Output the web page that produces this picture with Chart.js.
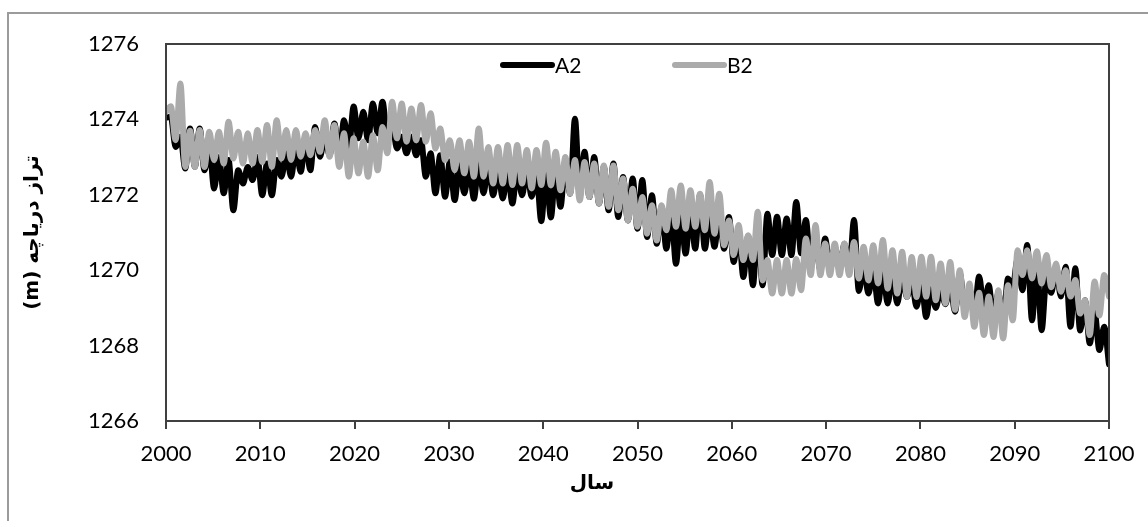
<!DOCTYPE html>
<html>
<head>
<meta charset="utf-8">
<title>Lake level A2 / B2</title>
<script src="https://cdn.jsdelivr.net/npm/chart.js@4.4.1/dist/chart.umd.min.js"></script>
<style>
  html, body { margin: 0; padding: 0; background: #fff; overflow: hidden; }
  #wrap { position: relative; width: 1148px; height: 521px; }
  #frame { position: absolute; left: 7px; top: 12px; width: 1300px; height: 700px;
           border-left: 2px solid #9b9b9b; border-top: 2px solid #9b9b9b; }
  canvas { position: absolute; left: 0; top: 0; }
</style>
</head>
<body>
<div id="wrap">
  <div id="frame"></div>
  <canvas id="levelChart" width="1148" height="521"></canvas>
</div>
<script>
// Lake level (m), one low and one high reading per seasonal swing
const seriesNames = ['A2', 'B2'];
const startYear = 2000;
const endYear = 2100;
const swingCount = 98;               // seasonal swings between 2000 and 2100
const yTicks = [1266, 1268, 1270, 1272, 1274, 1276];
const xTicks = [2000, 2010, 2020, 2030, 2040, 2050, 2060, 2070, 2080, 2090, 2100];

const a2Low = [
  1274.05, 1273.27, 1272.7, 1272.74, 1272.65, 1272.17, 1272.04, 1271.59, 1272.3, 1272.39,
  1271.99, 1271.99, 1272.48, 1272.48, 1272.61, 1272.65, 1273.01, 1273.05, 1273.01, 1273.23,
  1273.5, 1273.45, 1273.63, 1273.54, 1273.23, 1273.1, 1273.05, 1272.48, 1272.04, 1271.95,
  1271.86, 1272.04, 1271.9, 1272.04, 1271.99, 1271.9, 1271.77, 1271.99, 1271.95, 1271.3,
  1271.4, 1271.68, 1272.03, 1272.03, 1271.94, 1271.77, 1271.59, 1271.41, 1271.32, 1271.1,
  1270.88, 1270.7, 1270.57, 1270.17, 1270.44, 1270.57, 1270.57, 1270.62, 1270.57, 1270.22,
  1269.82, 1269.6, 1269.6, 1270.4, 1270.4, 1270.4, 1270.45, 1270.1, 1270.0, 1270.0,
  1270.0, 1269.95, 1269.45, 1269.38, 1269.12, 1269.12, 1269.12, 1269.29, 1269.03, 1268.76,
  1269.0, 1269.1, 1268.9, 1269.0, 1268.85, 1269.0, 1268.7, 1268.6, 1269.56, 1269.47,
  1268.67, 1268.41, 1269.4, 1269.3, 1268.5, 1268.4, 1268.06, 1267.88, 1267.5
];
const a2High = [
  1274.07, 1273.54, 1273.76, 1273.76, 1273.27, 1273.0, 1272.92, 1272.65, 1272.74, 1273.0,
  1272.83, 1272.92, 1273.1, 1273.27, 1273.45, 1273.8, 1273.54, 1273.89, 1273.98, 1274.34,
  1274.2, 1274.42, 1274.47, 1273.89, 1273.54, 1273.54, 1273.45, 1273.1, 1273.05, 1272.88,
  1272.79, 1272.74, 1272.83, 1272.83, 1272.65, 1272.65, 1272.7, 1272.65, 1272.57, 1272.6,
  1272.7, 1272.9, 1274.02, 1273.14, 1273.0, 1272.74, 1272.83, 1272.47, 1272.43, 1272.39,
  1271.99, 1271.68, 1271.59, 1271.5, 1271.59, 1272.0, 1271.5, 1271.5, 1271.41, 1271.06,
  1270.9, 1271.28, 1271.5, 1271.42, 1271.37, 1271.81, 1271.33, 1270.8, 1270.84, 1270.62,
  1270.7, 1271.33, 1270.1, 1270.0, 1269.95, 1269.9, 1269.9, 1269.7, 1269.7, 1269.5,
  1269.5, 1269.6, 1269.91, 1269.5, 1269.83, 1269.6, 1269.4, 1269.78, 1270.3, 1270.67,
  1270.2, 1269.8, 1270.09, 1270.09, 1270.05, 1269.2, 1268.9, 1268.5
];
const b2Low = [
  1274.2, 1273.45, 1272.74, 1272.74, 1272.74, 1272.92, 1272.83, 1272.96, 1272.83, 1272.83,
  1272.87, 1272.74, 1272.96, 1272.92, 1273.01, 1273.05, 1273.14, 1273.01, 1272.74, 1272.48,
  1272.57, 1272.48, 1272.65, 1273.1, 1273.5, 1273.41, 1273.45, 1273.41, 1273.23, 1272.92,
  1272.65, 1272.57, 1272.48, 1272.48, 1272.3, 1272.3, 1272.26, 1272.3, 1272.17, 1272.26,
  1272.25, 1272.12, 1272.03, 1271.85, 1271.94, 1271.77, 1271.68, 1271.59, 1271.32, 1271.15,
  1270.97, 1270.79, 1271.06, 1271.15, 1271.1, 1271.15, 1271.06, 1270.97, 1270.66, 1270.4,
  1270.27, 1270.27, 1269.73, 1269.38, 1269.38, 1269.38, 1269.47, 1269.87, 1269.87, 1269.87,
  1269.87, 1269.87, 1269.78, 1269.73, 1269.65, 1269.51, 1269.38, 1269.29, 1269.29, 1269.3,
  1269.2, 1269.12, 1268.95, 1268.76, 1268.5, 1268.28, 1268.23, 1268.19, 1268.67, 1269.87,
  1269.78, 1269.65, 1269.55, 1269.43, 1269.3, 1268.85, 1268.28, 1268.8, 1269.3
];
const b2High = [
  1274.35, 1274.95, 1273.7, 1273.72, 1273.67, 1273.67, 1273.94, 1273.67, 1273.63, 1273.72,
  1273.85, 1273.98, 1273.72, 1273.72, 1273.63, 1273.72, 1273.98, 1273.85, 1273.63, 1273.5,
  1273.41, 1273.58, 1273.8, 1274.47, 1274.42, 1274.29, 1274.38, 1274.16, 1273.76, 1273.45,
  1273.45, 1273.41, 1273.76, 1273.27, 1273.27, 1273.32, 1273.32, 1273.19, 1273.19, 1273.38,
  1273.14, 1273.0, 1272.92, 1272.87, 1272.83, 1272.78, 1272.78, 1272.43, 1272.16, 1271.94,
  1271.72, 1271.72, 1272.12, 1272.25, 1272.12, 1272.03, 1272.34, 1272.03, 1271.32, 1271.2,
  1270.93, 1271.55, 1270.27, 1270.27, 1270.27, 1270.3, 1270.84, 1271.2, 1270.71, 1270.71,
  1270.71, 1270.75, 1270.62, 1270.66, 1270.8, 1270.53, 1270.49, 1270.35, 1270.36, 1270.36,
  1270.18, 1270.22, 1270.0, 1269.65, 1269.4, 1269.3, 1269.47, 1269.6, 1270.53, 1270.53,
  1270.5, 1270.4, 1270.18, 1270.0, 1269.74, 1269.2, 1269.7, 1269.87
];

const seriesColors = ['#000000', '#ababab'];
const FONT = 'Lato, "Liberation Sans", sans-serif';
const TITLE_FONT = '"DejaVu Sans", "Liberation Sans", sans-serif';

// Lows sit at the start of each swing, highs half a swing later
function buildPoints(lows, highs) {
  const swing = (endYear - startYear) / swingCount;
  const points = [];
  lows.forEach((low, k) => {
    const t = startYear + k * swing;
    points.push({ x: t, y: low });
    if (k < highs.length) points.push({ x: t + swing / 2, y: highs[k] });
  });
  return points;
}

// Plot box, inside legend and the two axis titles
const decorPlugin = {
  id: 'decor',
  afterDraw(chart) {
    const { ctx, chartArea: area } = chart;
    ctx.save();
    ctx.strokeStyle = '#404040';
    ctx.lineWidth = 2;
    ctx.strokeRect(area.left, area.top, area.right - area.left, area.bottom - area.top);

    // legend: short line + name
    const legendX = [500, 672];
    const legendY = 65;
    chart.data.datasets.forEach((ds, i) => {
      ctx.strokeStyle = ds.borderColor;
      ctx.lineWidth = 6;
      ctx.lineCap = 'round';
      ctx.beginPath();
      ctx.moveTo(legendX[i] + 3, legendY);
      ctx.lineTo(legendX[i] + 52, legendY);
      ctx.stroke();
      ctx.fillStyle = '#000';
      ctx.font = '21px ' + FONT;
      ctx.textAlign = 'left';
      ctx.textBaseline = 'middle';
      ctx.fillText(ds.label, legendX[i] + 55, legendY + 1);
    });

    // axis titles
    ctx.fillStyle = '#000';
    ctx.font = 'bold 20px ' + TITLE_FONT;
    ctx.textAlign = 'center';
    ctx.textBaseline = 'middle';
    ctx.fillText('سال', 592, 484);

    ctx.translate(33, (area.top + area.bottom) / 2);
    ctx.rotate(-Math.PI / 2);
    ctx.fillText('(m) تراز دریاچه', 0, 0);
    ctx.restore();
  }
};

const chart = new Chart(document.getElementById('levelChart'), {
  type: 'line',
  data: {
    datasets: [
      {
        label: seriesNames[0],
        data: buildPoints(a2Low, a2High),
        borderColor: seriesColors[0],
        order: 1
      },
      {
        label: seriesNames[1],
        data: buildPoints(b2Low, b2High),
        borderColor: seriesColors[1],
        order: 0
      }
    ]
  },
  options: {
    responsive: false,
    animation: false,
    layout: { padding: { left: 0, right: 39, top: 44, bottom: 0 } },
    elements: {
      point: { radius: 0 },
      line: {
        borderWidth: 6,
        cubicInterpolationMode: 'monotone',
        borderJoinStyle: 'round',
        borderCapStyle: 'round'
      }
    },
    scales: {
      x: {
        type: 'linear',
        min: startYear,
        max: endYear,
        afterFit(scale) { scale.height = 100; },
        afterBuildTicks(scale) { scale.ticks = xTicks.map(v => ({ value: v })); },
        grid: {
          display: true,
          drawOnChartArea: false,
          drawTicks: true,
          tickLength: 8,
          color: '#404040',
          lineWidth: 2
        },
        border: { display: false },
        ticks: {
          padding: 12,
          color: '#000',
          font: { family: FONT, size: 22 },
          maxRotation: 0,
          callback: v => String(v)
        }
      },
      y: {
        min: yTicks[0],
        max: yTicks[yTicks.length - 1],
        afterFit(scale) { scale.width = 166; },
        afterBuildTicks(scale) { scale.ticks = yTicks.map(v => ({ value: v })); },
        grid: { display: false, drawTicks: false },
        border: { display: false },
        ticks: {
          padding: 27,
          color: '#000',
          font: { family: FONT, size: 22 },
          callback: v => String(v)
        }
      }
    },
    plugins: {
      legend: { display: false },
      tooltip: { enabled: false }
    }
  },
  plugins: [decorPlugin]
});
</script>
</body>
</html>
